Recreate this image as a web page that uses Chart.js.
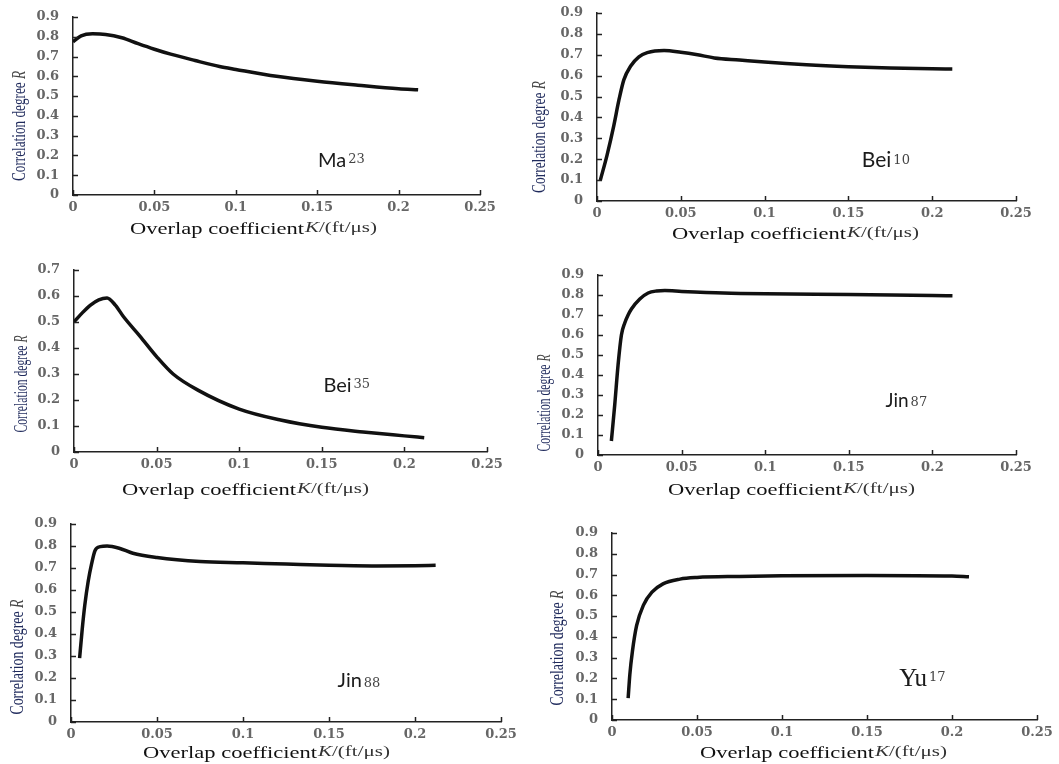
<!DOCTYPE html>
<html>
<head>
<meta charset="utf-8">
<script src="https://cdn.jsdelivr.net/npm/chart.js@4.4.0/dist/chart.umd.min.js"></script>
<style>
html, body { margin: 0; padding: 0; background: #fff; width: 1059px; height: 764px; overflow: hidden; position: relative; }
canvas { position: absolute; }
</style>
</head>
<body>
<script>
// tick labels
const xTicks = [0, 0.05, 0.1, 0.15, 0.2, 0.25];
const yTicks9 = [0, 0.1, 0.2, 0.3, 0.4, 0.5, 0.6, 0.7, 0.8, 0.9];
const yTicks7 = [0, 0.1, 0.2, 0.3, 0.4, 0.5, 0.6, 0.7];

// Ma23
const maK = [0, 0.005, 0.012, 0.02, 0.03, 0.04, 0.05, 0.06, 0.075, 0.09, 0.1, 0.125, 0.15, 0.175, 0.2, 0.212];
const maR = [0.775, 0.805, 0.815, 0.812, 0.795, 0.765, 0.737, 0.712, 0.68, 0.65, 0.635, 0.6, 0.575, 0.555, 0.537, 0.532];
// Bei10
const bei10K = [0.002, 0.006, 0.01, 0.013, 0.016, 0.02, 0.025, 0.03, 0.04, 0.05, 0.06, 0.07, 0.085, 0.1, 0.125, 0.15, 0.175, 0.2, 0.212];
const bei10R = [0.1, 0.22, 0.36, 0.48, 0.58, 0.645, 0.69, 0.71, 0.72, 0.712, 0.7, 0.685, 0.675, 0.665, 0.652, 0.643, 0.637, 0.633, 0.632];
// Bei35
const bei35K = [0, 0.005, 0.01, 0.015, 0.02, 0.025, 0.03, 0.04, 0.05, 0.06, 0.075, 0.1, 0.125, 0.15, 0.175, 0.2, 0.212];
const bei35R = [0.5, 0.535, 0.565, 0.585, 0.592, 0.565, 0.52, 0.445, 0.367, 0.3, 0.238, 0.165, 0.123, 0.095, 0.077, 0.062, 0.055];
// Jin87
const jin87K = [0.008, 0.01, 0.012, 0.014, 0.016, 0.018, 0.02, 0.025, 0.03, 0.035, 0.04, 0.05, 0.075, 0.1, 0.15, 0.2, 0.212];
const jin87R = [0.07, 0.25, 0.45, 0.6, 0.66, 0.7, 0.73, 0.78, 0.81, 0.82, 0.822, 0.818, 0.81, 0.806, 0.802, 0.797, 0.796];
// Jin88
const jin88K = [0.005, 0.0065, 0.008, 0.01, 0.012, 0.014, 0.017, 0.021, 0.028, 0.036, 0.05, 0.075, 0.1, 0.125, 0.15, 0.175, 0.2, 0.212];
const jin88R = [0.29, 0.42, 0.53, 0.64, 0.72, 0.78, 0.797, 0.8, 0.79, 0.767, 0.748, 0.73, 0.724, 0.718, 0.712, 0.709, 0.71, 0.712];
// Yu17
const yu17K = [0.0095, 0.0105, 0.012, 0.0145, 0.0185, 0.0235, 0.03, 0.04, 0.05, 0.075, 0.1, 0.15, 0.2, 0.21];
const yu17R = [0.105, 0.22, 0.33, 0.455, 0.553, 0.615, 0.655, 0.678, 0.686, 0.691, 0.694, 0.696, 0.693, 0.69];

const PAD_L = 75, PAD_T = 15, PAD_R = 35, PAD_B = 50;

// box = chart area in page px [left, top, right, bottom]
const panels = [
  { box: [73, 17, 480, 195], yMax: 0.9, yT: yTicks9, k: maK, r: maR, name: 'Ma', ref: '23', nameFont: '20px Lato', at: [0.1505, 0.142], refDy: -4, yTitle: [20, 126, 110], xTitle: [130, 234] },
  { box: [597, 13, 1016, 201], yMax: 0.9, yT: yTicks9, k: bei10K, r: bei10R, name: 'Bei', ref: '10', nameFont: '21px Lato', at: [0.158, 0.163], refDy: -3, yTitle: [540, 137, 112], xTitle: [672, 239] },
  { box: [74, 270, 487, 452], yMax: 0.7, yT: yTicks7, k: bei35K, r: bei35R, name: 'Bei', ref: '35', nameFont: '20px Lato', at: [0.151, 0.231], refDy: -4, yTitle: [22, 384, 97], xTitle: [122, 495] },
  { box: [598, 275, 1016, 455], yMax: 0.9, yT: yTicks9, k: jin87K, r: jin87R, name: 'Jin', ref: '87', nameFont: '19px Lato', at: [0.172, 0.24], refDy: -1, yTitle: [545, 403, 97], xTitle: [668, 495] },
  { box: [71, 524, 501, 722], yMax: 0.9, yT: yTicks9, k: jin88K, r: jin88R, name: 'Jin', ref: '88', nameFont: '20px Lato', at: [0.155, 0.159], refDy: 0, yTitle: [18, 657, 115], xTitle: [143, 758] },
  { box: [612, 533, 1037, 720], yMax: 0.9, yT: yTicks9, k: yu17K, r: yu17R, name: 'Yu', ref: '17', nameFont: '25px "Liberation Serif"', at: [0.169, 0.164], refDy: -5, yTitle: [558, 648, 115], xTitle: [700, 758] }
];

function fmt(v) { return String(+v.toFixed(2)); }

// draw text parts squeezed/stretched to a target length
function drawParts(ctx, parts, x, y, len, rotate) {
  let w = 0;
  parts.forEach(p => { ctx.font = p.font; w += ctx.measureText(p.text).width; });
  ctx.save();
  ctx.translate(x, y);
  if (rotate) ctx.rotate(-Math.PI / 2);
  ctx.scale(len / w, 1);
  ctx.textAlign = 'left';
  let cx = 0;
  parts.forEach(p => {
    ctx.font = p.font;
    ctx.fillStyle = p.color;
    ctx.fillText(p.text, cx, p.dy || 0);
    cx += ctx.measureText(p.text).width;
  });
  ctx.restore();
}

const decor = {
  id: 'decor',
  afterDraw(chart, args, o) {
    const ctx = chart.ctx, a = chart.chartArea;
    const xs = chart.scales.x, ys = chart.scales.y;
    const ox = o.offX, oy = o.offY;
    ctx.save();
    // inward tick marks
    ctx.strokeStyle = '#222';
    ctx.lineWidth = 1.5;
    xTicks.forEach(v => {
      const px = Math.round(xs.getPixelForValue(v)) + 0.5;
      ctx.beginPath(); ctx.moveTo(px, a.bottom); ctx.lineTo(px, a.bottom - 5); ctx.stroke();
    });
    o.yT.forEach(v => {
      const py = Math.round(ys.getPixelForValue(v)) + 0.5;
      ctx.beginPath(); ctx.moveTo(a.left, py); ctx.lineTo(a.left + 5, py); ctx.stroke();
    });
    // curve label
    const lx = xs.getPixelForValue(o.at[0]), ly = ys.getPixelForValue(o.at[1]);
    ctx.textAlign = 'left';
    ctx.textBaseline = 'alphabetic';
    ctx.font = o.nameFont;
    ctx.fillStyle = '#1b1b1b';
    ctx.fillText(o.name, lx, ly);
    const nw = ctx.measureText(o.name).width;
    ctx.font = '13px "DejaVu Serif"';
    ctx.fillStyle = '#444';
    ctx.fillText(o.ref, lx + nw + 2, ly + o.refDy);
    // y title
    ctx.textBaseline = 'middle';
    drawParts(ctx, [
      { text: 'Correlation degree', font: '19px "Liberation Serif"', color: '#1f2a5c' },
      { text: ' R', font: 'italic 19px "Liberation Serif"', color: '#444' }
    ], o.yTitle[0] - ox, o.yTitle[1] - oy + o.yTitle[2] / 2, o.yTitle[2], true);
    // x title
    ctx.textBaseline = 'alphabetic';
    drawParts(ctx, [
      { text: 'Overlap coefficient', font: '17px "Liberation Serif"', color: '#111' }
    ], o.xTitle[0] - ox, o.xTitle[1] - oy, 174, false);
    drawParts(ctx, [
      { text: 'K', font: 'italic 14px "Liberation Serif"', color: '#333' },
      { text: '/(ft/\u03bcs)', font: '14px "Liberation Serif"', color: '#333' }
    ], o.xTitle[0] + 175 - ox, o.xTitle[1] - oy - 2, 72, false);
    ctx.restore();
  }
};

panels.forEach(p => {
  const [l, t, r, b] = p.box;
  const cv = document.createElement('canvas');
  const offX = l - PAD_L, offY = t - PAD_T;
  cv.width = r - l + PAD_L + PAD_R;
  cv.height = b - t + PAD_T + PAD_B;
  cv.style.left = offX + 'px';
  cv.style.top = offY + 'px';
  document.body.appendChild(cv);

  new Chart(cv.getContext('2d'), {
    type: 'line',
    data: {
      datasets: [{
        data: p.k.map((x, i) => ({ x: x, y: p.r[i] })),
        borderColor: '#111',
        borderWidth: 3.5,
        pointRadius: 0,
        fill: false,
        cubicInterpolationMode: 'monotone'
      }]
    },
    options: {
      responsive: false,
      animation: false,
      layout: { padding: { left: 0, top: PAD_T, right: PAD_R, bottom: 0 } },
      plugins: {
        legend: { display: false },
        tooltip: { enabled: false },
        decor: { offX: offX, offY: offY, yT: p.yT, at: p.at, name: p.name, ref: p.ref, nameFont: p.nameFont, refDy: p.refDy, yTitle: p.yTitle, xTitle: p.xTitle }
      },
      scales: {
        x: {
          type: 'linear', min: 0, max: 0.25,
          afterBuildTicks: s => { s.ticks = xTicks.map(v => ({ value: v })); },
          afterFit: s => { s.height = PAD_B; },
          grid: { display: false },
          border: { display: true, color: '#222', width: 1.5 },
          ticks: { callback: fmt, padding: -3, maxRotation: 0, autoSkip: false, color: '#666', font: { family: 'DejaVu Serif', size: 13, weight: 'bold' } }
        },
        y: {
          type: 'linear', min: 0, max: p.yMax,
          afterBuildTicks: s => { s.ticks = p.yT.map(v => ({ value: v })); },
          afterFit: s => { s.width = PAD_L; },
          grid: { display: false },
          border: { display: true, color: '#222', width: 1.5 },
          ticks: { callback: fmt, padding: 6, autoSkip: false, color: '#666', font: { family: 'DejaVu Serif', size: 13, weight: 'bold' } }
        }
      }
    },
    plugins: [decor]
  });
});
</script>
</body>
</html>
